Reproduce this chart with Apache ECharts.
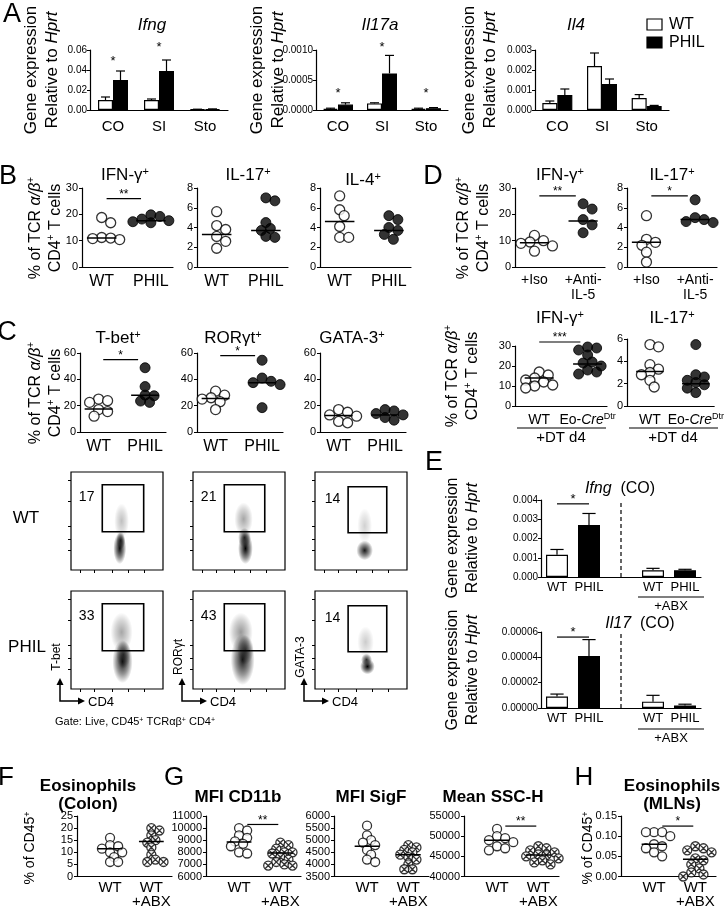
<!DOCTYPE html>
<html>
<head>
<meta charset="utf-8">
<script src="https://cdn.jsdelivr.net/npm/echarts@6/dist/echarts.min.js"></script>
<style>
html, body { margin: 0; padding: 0; background: #fff; }
#container { width: 727px; height: 909px; }
</style>
</head>
<body>
<div id="container"></div>
<script>
// ---------------- data ----------------
// A: gene expression relative to Hprt (mean, upper error)
const geneCats = ['CO', 'SI', 'Sto'];
const ifngWT = [0.0100, 0.0100, 0.0006];
const ifngWTErr = [0.0030, 0.0010, 0.0002];
const ifngPHIL = [0.0300, 0.0390, 0.0008];
const ifngPHILErr = [0.0090, 0.0110, 0.0003];
const il17aWT = [0.00002, 0.00011, 0.00002];
const il17aWTErr = [0.00001, 0.00001, 0.00001];
const il17aPHIL = [0.00009, 0.00061, 0.00003];
const il17aPHILErr = [0.00003, 0.00030, 0.00001];
const il4WT = [0.00035, 0.0022, 0.0006];
const il4WTErr = [0.00010, 0.00065, 0.00017];
const il4PHIL = [0.00075, 0.0013, 0.0002];
const il4PHILErr = [0.00030, 0.00025, 0.00003];

// B: % of TCRab+ CD4+ T cells
const bIfnWT = [18.8, 16.8, 11.2, 11.0, 10.4, 10.8];
const bIfnPHIL = [19.8, 19.2, 18.2, 17.6, 17.2, 16.6, 16.8];
const bIl17WT = [5.6, 4.2, 3.8, 3.1, 2.6, 1.9];
const bIl17PHIL = [7.0, 6.7, 4.5, 3.9, 3.7, 3.1, 3.0];
const bIl4WT = [7.2, 5.8, 5.2, 4.1, 3.0, 3.0];
const bIl4PHIL = [5.2, 4.8, 4.0, 3.7, 3.3, 2.8];

// C: transcription factors
const cTbetWT = [25.0, 23.8, 22.5, 17.0, 15.5, 12.0];
const cTbetPHIL = [48.8, 34.5, 28.0, 27.5, 23.5, 22.5];
const cRorWT = [31.0, 28.0, 26.0, 25.0, 23.0, 17.0];
const cRorPHIL = [54.5, 41.0, 38.5, 37.5, 36.0, 18.5];
const cGataWT = [17.0, 15.0, 13.0, 12.0, 8.0, 7.0];
const cGataPHIL = [17.0, 16.0, 14.0, 13.0, 11.0, 9.0];

// D
const dIfnIso = [12.0, 10.0, 9.5, 9.0, 8.0, 6.0];
const dIfnAnti = [24.0, 22.0, 18.0, 16.0, 13.0];
const dIl17Iso = [5.2, 2.8, 2.5, 2.2, 1.5, 0.5];
const dIl17Anti = [6.8, 5.0, 4.8, 4.6, 4.5];
const dIfnWT = [17.0, 15.5, 14.0, 13.0, 12.0, 10.5, 10.0, 9.0];
const dIfnEo = [29.5, 29.0, 28.0, 25.5, 22.0, 21.5, 20.0, 18.0, 17.0, 16.0];
const dIl17WT = [5.5, 5.3, 3.7, 3.3, 3.0, 2.8, 2.3, 1.7];
const dIl17Eo = [5.5, 2.8, 2.6, 2.3, 2.1, 1.9, 1.6, 1.2];

// E: colon expression with / without ABX
const eCats = ['WT', 'PHIL', '', 'WT', 'PHIL'];
const eIfng = [0.00115, 0.0027, null, 0.00035, 0.00035];
const eIfngErr = [0.00028, 0.0006, null, 0.0001, 0.00005];
const eIl17 = [0.000009, 0.000041, null, 0.000005, 0.000002];
const eIl17Err = [0.000002, 0.000013, null, 0.000005, 0.000001];

// F, G, H
const fColWT = [16, 13, 12.5, 11.5, 10, 10, 8, 6, 6];
const fColABX = [20, 19, 17, 15, 14, 12, 9, 7, 6, 6];
const gCd11bWT = [10000, 9800, 9400, 9200, 8900, 8700, 8500, 8000, 7900];
const gCd11bABX = [8800, 8600, 8300, 8000, 8000, 7900, 7600, 7400, 7200, 7000, 6900, 6900];
const gSigfWT = [5600, 5200, 5000, 4900, 4800, 4600, 4400, 4200, 4100];
const gSigfABX = [4800, 4700, 4600, 4500, 4400, 4300, 4200, 4000, 3800, 3800];
const gSscWT = [51800, 50000, 49500, 49000, 48500, 47500, 47000, 46500];
const gSscABX = [47500, 47000, 46500, 46000, 45500, 45300, 45000, 44500, 44000, 43500, 43000];
const hMlnWT = [0.11, 0.11, 0.11, 0.10, 0.08, 0.075, 0.07, 0.06, 0.05];
const hMlnABX = [0.075, 0.07, 0.065, 0.06, 0.045, 0.04, 0.03, 0.02, 0.01, 0.005, 0.0];

// flow plots: gate [x1, y1, x2, y2], label, density blobs [cx, cy, rx, ry, alpha]
const flowRows = ['WT', 'PHIL'];
const flowChannels = ['T-bet', 'RORγt', 'GATA-3'];
const flowGates = [[34, 39, 79, 87], [34, 39, 78, 87], [36, 38, 78, 85]];
const flowPct = [['17', '21', '14'], ['33', '43', '14']];
const flowTicksY = [20, 31, 45, 70, 92];
const flowTicksX = [10, 25, 45, 62, 80];
const flowBlobs = [
  [
    [[53, 22, 7, 16, 0.95], [54, 30, 5, 9, 0.8], [55, 50, 8, 18, 0.25]],
    [[57, 22, 8, 16, 1.0], [56, 33, 7, 10, 0.8], [55, 52, 10, 17, 0.35]],
    [[54, 20, 9, 10, 0.9], [54, 45, 8, 18, 0.18]]
  ],
  [
    [[56, 28, 11, 22, 0.9], [57, 35, 8, 14, 0.6], [55, 58, 12, 20, 0.35]],
    [[54, 30, 13, 26, 0.9], [57, 40, 9, 15, 0.6], [52, 58, 13, 20, 0.4]],
    [[57, 23, 8, 8, 1.0], [56, 30, 6, 6, 0.8], [55, 48, 9, 16, 0.2]]
  ]
];

// ---------------- builders ----------------
const FONT = '"Liberation Sans", Arial, sans-serif';
const NARROW = '"Liberation Sans Narrow", "Liberation Sans", Arial, sans-serif';
const grids = [], xAxes = [], yAxes = [], series = [], graphics = [];

function addGrid(b, extra) {
  grids.push(Object.assign({ left: b.l, top: b.t, width: b.w, height: b.h }, extra || {}));
  return grids.length - 1;
}

function txt(x, y, text, o) {
  o = o || {};
  graphics.push({
    type: 'text', x: x, y: y, rotation: o.rot || 0, z: 100,
    style: {
      text: text, fill: '#000',
      fontSize: o.size || 16, fontFamily: o.font || FONT,
      fontWeight: o.weight || 'normal', fontStyle: o.italic ? 'italic' : 'normal',
      textAlign: o.align || 'center', textVerticalAlign: o.valign || 'middle',
      align: o.align || 'center', verticalAlign: o.valign || 'middle',
      lineHeight: o.lh, rich: o.rich
    }
  });
}

function hline(x1, x2, y, w) {
  graphics.push({ type: 'line', z: 100, shape: { x1: x1, y1: y, x2: x2, y2: y }, style: { stroke: '#000', lineWidth: w || 1.2 } });
}

function supRich(size) {
  return {
    sup: { fontSize: Math.round(size * 0.62), verticalAlign: 'top', fontFamily: FONT },
    i: { fontStyle: 'italic', fontSize: size, fontFamily: FONT },
    n: { fontSize: size, fontFamily: FONT }
  };
}

// bar chart with upper error bars
function barPanel(o) {
  const g = addGrid(o.box);
  xAxes.push({
    type: 'category', gridIndex: g, data: o.cats,
    axisLine: { lineStyle: { color: '#000', width: 1.2 } }, axisTick: { show: false },
    axisLabel: { color: '#000', fontSize: o.catSize || 15, fontFamily: FONT, margin: o.catMargin || 9, interval: 0 }
  });
  yAxes.push({
    type: 'value', gridIndex: g, min: 0, max: o.max, interval: o.interval,
    splitLine: { show: false },
    axisLine: { show: true, lineStyle: { color: '#000', width: 1.2 } },
    axisTick: { show: true, length: 3, lineStyle: { color: '#000' } },
    axisLabel: { color: '#000', fontSize: o.tickSize || 10, fontFamily: FONT, margin: 3, formatter: v => v.toFixed(o.dec) }
  });
  const bw = o.barW;
  const errItems = [];
  if (o.single) {
    series.push({
      type: 'bar', xAxisIndex: g, yAxisIndex: g, barWidth: bw,
      data: o.vals.map((v, i) => ({ value: v, itemStyle: { color: o.fills[i], borderColor: '#000', borderWidth: 1.2 } }))
    });
    o.vals.forEach((v, i) => { if (v != null) errItems.push([i, v, o.errs[i], 0]); });
  } else {
    series.push({ type: 'bar', xAxisIndex: g, yAxisIndex: g, barWidth: bw, barGap: '0%', data: o.wt,
      itemStyle: { color: '#fff', borderColor: '#000', borderWidth: 1.2 } });
    series.push({ type: 'bar', xAxisIndex: g, yAxisIndex: g, barWidth: bw, barGap: '0%', data: o.ph,
      itemStyle: { color: '#000', borderColor: '#000', borderWidth: 1.2 } });
    o.wt.forEach((v, i) => errItems.push([i, v, o.wtErr[i], -bw / 2]));
    o.ph.forEach((v, i) => errItems.push([i, v, o.phErr[i], bw / 2]));
  }
  series.push({
    type: 'custom', xAxisIndex: g, yAxisIndex: g, data: errItems, encode: { x: 0, y: 1 }, z: 3,
    renderItem: function (p, api) {
      const c = api.value(0), v = api.value(1), e = api.value(2), dx = api.value(3);
      const a = api.coord([c, v]), b = api.coord([c, v + e]);
      const x = a[0] + dx, cap = bw * 0.3;
      return { type: 'group', children: [
        { type: 'line', shape: { x1: x, y1: a[1], x2: x, y2: b[1] }, style: { stroke: '#000', lineWidth: 1.2 } },
        { type: 'line', shape: { x1: x - cap, y1: b[1], x2: x + cap, y2: b[1] }, style: { stroke: '#000', lineWidth: 1.2 } }
      ] };
    }
  });
  if (o.sig) sigSeries(g, o.sig, 13);
  if (o.divider != null) {
    series.push({
      type: 'custom', xAxisIndex: g, yAxisIndex: g, data: [[o.divider, 0]], encode: { x: 0, y: 1 },
      renderItem: function (p, api) {
        const a = api.coord([o.divider, 0]), b = api.coord([o.divider, o.max]);
        return { type: 'line', shape: { x1: a[0], y1: a[1], x2: b[0], y2: b[1] }, style: { stroke: '#000', lineWidth: 1.2, lineDash: [4, 3] } };
      }
    });
  }
  return g;
}

// significance markers: [x1, x2, y, text]
function sigSeries(g, sig, size) {
  series.push({
    type: 'custom', xAxisIndex: g, yAxisIndex: g, z: 4,
    data: sig.map(s => [s[0], s[2]]), encode: { x: 0, y: 1 },
    renderItem: function (p, api) {
      const s = sig[p.dataIndex];
      const a = api.coord([s[0], s[2]]), b = api.coord([s[1], s[2]]);
      return { type: 'group', children: [
        { type: 'line', shape: { x1: a[0], y1: a[1], x2: b[0], y2: b[1] }, style: { stroke: '#000', lineWidth: 1.2 } },
        { type: 'text', x: (a[0] + b[0]) / 2, y: a[1] + 2, style: { text: s[3], fill: '#000', fontSize: size, fontFamily: FONT, align: 'center', verticalAlign: 'bottom', textAlign: 'center', textVerticalAlign: 'bottom' } }
      ] };
    }
  });
}

// deterministic beeswarm layout in pixel space
function swarm(vals, center, pxX, pxY, size) {
  const placed = [];
  const out = new Array(vals.length);
  const order = vals.map((v, i) => i).sort((a, b) => vals[b] - vals[a]);
  order.forEach(i => {
    const y = vals[i] * pxY;
    for (let k = 0; k < 40; k++) {
      const off = (k === 0 ? 0 : (k % 2 ? 1 : -1) * Math.ceil(k / 2)) * size * 0.45;
      if (placed.every(q => Math.hypot(q[0] - off, q[1] - y) >= size * 0.72)) {
        placed.push([off, y]);
        out[i] = center + off / pxX;
        break;
      }
    }
  });
  return out;
}

const CROSS = 'path://M10,0A10,10,0,1,1,10,20A10,10,0,1,1,10,0ZM2.93,2.93L17.07,17.07M17.07,2.93L2.93,17.07';

function dotPanel(o) {
  const g = addGrid(o.box);
  const xMin = o.xMin != null ? o.xMin : 0.6, xMax = o.xMax != null ? o.xMax : 2.45;
  const font = o.font || FONT;
  xAxes.push({
    type: 'value', gridIndex: g, min: xMin, max: xMax, splitLine: { show: false },
    axisLine: { show: true, onZero: false, lineStyle: { color: '#000', width: 1.2 } }, axisTick: { show: false },
    axisLabel: { customValues: [1, 2], formatter: v => o.names[Math.round(v) - 1], color: '#000',
      fontSize: o.catSize || 16, fontFamily: font, margin: o.catMargin || 6, lineHeight: o.catLH || 17,
      verticalAlign: 'top', rich: o.catRich }
  });
  yAxes.push({
    type: 'value', gridIndex: g, min: o.yMin, max: o.yMax, interval: o.yInt, splitLine: { show: false },
    axisLine: { show: true, onZero: false, lineStyle: { color: '#000', width: 1.2 } },
    axisTick: { show: true, length: 3, lineStyle: { color: '#000' } },
    axisLabel: { color: '#000', fontSize: o.tickSize || 11, fontFamily: font, margin: 4, formatter: o.yFmt || (v => String(v)) }
  });
  const pxX = o.box.w / (xMax - xMin), pxY = o.box.h / (o.yMax - o.yMin);
  const size = o.size || 10;
  o.groups.forEach((grp, gi) => {
    const c = gi + 1;
    const xs = swarm(grp.vals, c, pxX, pxY, size);
    let style, symbol = 'circle';
    if (grp.kind === 'filled') style = { color: '#000', borderColor: '#000', borderWidth: 1 };
    else style = { color: '#fff', borderColor: '#000', borderWidth: 1.3 };
    if (grp.kind === 'cross') symbol = CROSS;
    series.push({ type: 'scatter', xAxisIndex: g, yAxisIndex: g, symbol: symbol, symbolSize: size, z: 2,
      itemStyle: style, data: grp.vals.map((v, i) => [xs[i], v]) });
    series.push({ type: 'line', xAxisIndex: g, yAxisIndex: g, z: 3, showSymbol: false, silent: true,
      lineStyle: { color: '#000', width: 1.5 }, data: [[c - 0.3, grp.line], [c + 0.3, grp.line]] });
  });
  if (o.sig) sigSeries(g, o.sig, o.sigSize || 12);
  return g;
}

function flowPanel(row, col, box) {
  const g = addGrid(box, { show: true, borderColor: '#000', borderWidth: 1.2, backgroundColor: '#fff' });
  const tick = { show: true, length: 3, lineStyle: { color: '#000', width: 1 } };
  xAxes.push({ type: 'value', gridIndex: g, min: 0, max: 100, axisLine: { show: false }, axisLabel: { show: false },
    splitLine: { show: false }, axisTick: Object.assign({ customValues: flowTicksX }, tick) });
  yAxes.push({ type: 'value', gridIndex: g, min: 0, max: 100, axisLine: { show: false }, axisLabel: { show: false },
    splitLine: { show: false }, axisTick: Object.assign({ customValues: flowTicksY }, tick) });
  const blobs = flowBlobs[row][col];
  series.push({
    type: 'custom', xAxisIndex: g, yAxisIndex: g, clip: true, z: 1,
    data: blobs.map(b => [b[0], b[1]]), encode: { x: 0, y: 1 },
    renderItem: function (p, api) {
      const b = blobs[p.dataIndex];
      const c = api.coord([b[0], b[1]]), s = api.size([b[2], b[3]]);
      return { type: 'circle', x: c[0], y: c[1], scaleX: s[0], scaleY: s[1], shape: { cx: 0, cy: 0, r: 1 },
        style: { fill: new echarts.graphic.RadialGradient(0.5, 0.5, 0.5, [
          { offset: 0, color: 'rgba(0,0,0,' + b[4] + ')' },
          { offset: 0.6, color: 'rgba(0,0,0,' + (b[4] * 0.45) + ')' },
          { offset: 1, color: 'rgba(0,0,0,0)' }]) } };
    }
  });
  const gate = flowGates[col];
  series.push({
    type: 'custom', xAxisIndex: g, yAxisIndex: g, z: 5, data: [[gate[0], gate[1]]], encode: { x: 0, y: 1 },
    renderItem: function (p, api) {
      const a = api.coord([gate[0], gate[3]]), b = api.coord([gate[2], gate[1]]);
      const t = api.coord([gate[0] - 17, gate[3] - 13]);
      return { type: 'group', children: [
        { type: 'rect', shape: { x: a[0], y: a[1], width: b[0] - a[0], height: b[1] - a[1] }, style: { fill: 'none', stroke: '#000', lineWidth: 1.6 } },
        { type: 'text', x: t[0], y: t[1], style: { text: flowPct[row][col], fill: '#000', fontSize: 14, fontFamily: FONT, align: 'center', verticalAlign: 'middle', textAlign: 'center', textVerticalAlign: 'middle' } }
      ] };
    }
  });
}

// ---------------- layout ----------------
const R16 = supRich(16);
const TOP_A = 50, H_A = 60;

// Panel A
txt(12, 15, 'A', { size: 27 });
barPanel({ box: { l: 90, t: TOP_A, w: 138, h: H_A }, cats: geneCats, wt: ifngWT, wtErr: ifngWTErr, ph: ifngPHIL, phErr: ifngPHILErr,
  max: 0.06, interval: 0.02, dec: 2, barW: 15, sig: [[-0.3, 0.3, 0.044, '*'], [0.7, 1.3, 0.058, '*']] });
barPanel({ box: { l: 316, t: TOP_A, w: 132, h: H_A }, cats: geneCats, wt: il17aWT, wtErr: il17aWTErr, ph: il17aPHIL, phErr: il17aPHILErr,
  max: 0.001, interval: 0.0005, dec: 4, barW: 15, sig: [[-0.3, 0.3, 0.0002, '*'], [0.7, 1.3, 0.00097, '*'], [1.7, 2.3, 0.0002, '*']] });
barPanel({ box: { l: 535, t: TOP_A, w: 134, h: H_A }, cats: geneCats, wt: il4WT, wtErr: il4WTErr, ph: il4PHIL, phErr: il4PHILErr,
  max: 0.003, interval: 0.001, dec: 3, barW: 15 });
txt(152, 25, 'Ifng', { size: 17, italic: true });
txt(380, 25, 'Il17a', { size: 17, italic: true });
txt(576, 25, 'Il4', { size: 17, italic: true });
[42, 268, 480].forEach(x => txt(x, 70, 'Gene expression\n{n|Relative to }{i|Hprt}', { rot: Math.PI / 2, size: 17, lh: 21, rich: supRich(17) }));
// legend
graphics.push({ type: 'rect', z: 100, shape: { x: 647, y: 19, width: 15, height: 11 }, style: { fill: '#fff', stroke: '#000', lineWidth: 1.2 } });
graphics.push({ type: 'rect', z: 100, shape: { x: 647, y: 37, width: 15, height: 11 }, style: { fill: '#000', stroke: '#000', lineWidth: 1.2 } });
txt(669, 25, 'WT', { size: 16, align: 'left' });
txt(669, 43, 'PHIL', { size: 16, align: 'left' });

// Panel B
txt(8, 177, 'B', { size: 27 });
const TOP_B = 188, H_B = 79;
dotPanel({ box: { l: 82, t: TOP_B, w: 91, h: H_B }, names: ['WT', 'PHIL'], yMin: 0, yMax: 30, yInt: 10,
  groups: [{ vals: bIfnWT, kind: 'open', line: 11 }, { vals: bIfnPHIL, kind: 'filled', line: 17.6 }], sig: [[1.1, 1.8, 26, '**']] });
dotPanel({ box: { l: 197, t: TOP_B, w: 91, h: H_B }, names: ['WT', 'PHIL'], yMin: 0, yMax: 8, yInt: 2,
  groups: [{ vals: bIl17WT, kind: 'open', line: 3.3 }, { vals: bIl17PHIL, kind: 'filled', line: 3.7 }] });
dotPanel({ box: { l: 320, t: TOP_B, w: 91, h: H_B }, names: ['WT', 'PHIL'], yMin: 0, yMax: 8, yInt: 2,
  groups: [{ vals: bIl4WT, kind: 'open', line: 4.6 }, { vals: bIl4PHIL, kind: 'filled', line: 3.7 }] });
txt(125, 175, '{n|IFN-γ}{sup|+}', { rich: supRich(17) });
txt(248, 175, '{n|IL-17}{sup|+}', { rich: supRich(17) });
txt(363, 180, '{n|IL-4}{sup|+}', { rich: supRich(17) });
const TCR = '{n|% of TCR }{i|α/β}{sup|+}\n{n|CD4}{sup|+}{n| T cells}';
txt(46, 228, TCR, { rot: Math.PI / 2, lh: 20, rich: R16 });

// Panel C
txt(7, 333, 'C', { size: 27 });
const TOP_C = 353, H_C = 79;
dotPanel({ box: { l: 80, t: TOP_C, w: 86, h: H_C }, names: ['WT', 'PHIL'], yMin: 0, yMax: 60, yInt: 20,
  groups: [{ vals: cTbetWT, kind: 'open', line: 17.5 }, { vals: cTbetPHIL, kind: 'filled', line: 28 }], sig: [[1.1, 1.85, 55, '*']] });
dotPanel({ box: { l: 197, t: TOP_C, w: 86, h: H_C }, names: ['WT', 'PHIL'], yMin: 0, yMax: 60, yInt: 20,
  groups: [{ vals: cRorWT, kind: 'open', line: 25.5 }, { vals: cRorPHIL, kind: 'filled', line: 37.5 }], sig: [[1.1, 1.85, 58, '*']] });
dotPanel({ box: { l: 320, t: TOP_C, w: 86, h: H_C }, names: ['WT', 'PHIL'], yMin: 0, yMax: 60, yInt: 20,
  groups: [{ vals: cGataWT, kind: 'open', line: 12.5 }, { vals: cGataPHIL, kind: 'filled', line: 13 }] });
txt(118, 338, '{n|T-bet}{sup|+}', { rich: supRich(17) });
txt(233, 338, '{n|RORγt}{sup|+}', { rich: supRich(17) });
txt(352, 338, '{n|GATA-3}{sup|+}', { rich: supRich(17) });
txt(46, 393, TCR, { rot: Math.PI / 2, lh: 20, rich: R16 });

// flow plots
const flowLefts = [71, 193, 315], flowTops = [472, 591];
flowRows.forEach((r, ri) => flowLefts.forEach((l, ci) => flowPanel(ri, ci, { l: l, t: flowTops[ri], w: 92, h: 98 })));
txt(26, 518, 'WT', { size: 17 });
txt(27, 647, 'PHIL', { size: 17 });
flowLefts.forEach((l, ci) => {
  txt(l - 14, 657, flowChannels[ci], { rot: Math.PI / 2, size: 12 });
  const ax = l - 11, ay = 701;
  graphics.push({ type: 'polyline', z: 100, shape: { points: [[ax, 683], [ax, ay], [ax + 20, ay]] }, style: { stroke: '#000', lineWidth: 1.5, fill: 'none' } });
  graphics.push({ type: 'polygon', z: 100, shape: { points: [[ax - 3.5, 685], [ax + 3.5, 685], [ax, 678]] }, style: { fill: '#000' } });
  graphics.push({ type: 'polygon', z: 100, shape: { points: [[ax + 18, ay - 3.5], [ax + 18, ay + 3.5], [ax + 25, ay]] }, style: { fill: '#000' } });
  txt(ax + 28, ay + 1, 'CD4', { size: 13, align: 'left' });
});
txt(55, 722, '{n|Gate: Live, CD45}{sup|+}{n| TCRαβ}{sup|+}{n| CD4}{sup|+}', { align: 'left', rich: supRich(11) });

// Panel D
txt(433, 177, 'D', { size: 27 });
dotPanel({ box: { l: 515, t: TOP_B, w: 90, h: H_B }, names: ['+Iso', '+Anti-\nIL-5'], catSize: 14, catLH: 15, yMin: 0, yMax: 30, yInt: 10,
  groups: [{ vals: dIfnIso, kind: 'open', line: 9.2 }, { vals: dIfnAnti, kind: 'filled', line: 17.5 }], sig: [[1.1, 1.85, 27, '**']] });
dotPanel({ box: { l: 627, t: TOP_B, w: 90, h: H_B }, names: ['+Iso', '+Anti-\nIL-5'], catSize: 14, catLH: 15, yMin: 0, yMax: 8, yInt: 2,
  groups: [{ vals: dIl17Iso, kind: 'open', line: 2.5 }, { vals: dIl17Anti, kind: 'filled', line: 4.8 }], sig: [[1.1, 1.85, 7.2, '*']] });
txt(560, 175, '{n|IFN-γ}{sup|+}', { rich: supRich(17) });
txt(672, 175, '{n|IL-17}{sup|+}', { rich: supRich(17) });
txt(474, 228, TCR, { rot: Math.PI / 2, lh: 20, rich: R16 });

const EO = ['WT', '{n|Eo-}{i|Cre}{sup|Dtr}'];
dotPanel({ box: { l: 515, t: 346, w: 92, h: 60 }, names: EO, catSize: 14, catRich: supRich(14), yMin: 0, yMax: 30, yInt: 10, xMin: 0.5, xMax: 2.4,
  groups: [{ vals: dIfnWT, kind: 'open', line: 14 }, { vals: dIfnEo, kind: 'filled', line: 21 }], sig: [[1.0, 1.85, 32, '***']] });
dotPanel({ box: { l: 627, t: 339, w: 92, h: 67 }, names: EO, catSize: 14, catRich: supRich(14), yMin: 0, yMax: 6, yInt: 2, xMin: 0.5, xMax: 2.4,
  groups: [{ vals: dIl17WT, kind: 'open', line: 3.1 }, { vals: dIl17Eo, kind: 'filled', line: 2.0 }] });
txt(560, 318, '{n|IFN-γ}{sup|+}', { rich: supRich(17) });
txt(672, 318, '{n|IL-17}{sup|+}', { rich: supRich(17) });
txt(463, 376, TCR, { rot: Math.PI / 2, lh: 20, rich: R16 });
hline(517, 606, 428); txt(561, 438, '+DT d4', { size: 15 });
hline(629, 718, 428); txt(673, 438, '+DT d4', { size: 15 });

// Panel E
txt(434, 463, 'E', { size: 27 });
const eFills = ['#fff', '#000', '#fff', '#fff', '#000'];
barPanel({ box: { l: 541, t: 500, w: 160, h: 77 }, cats: eCats, single: true, vals: eIfng, errs: eIfngErr, fills: eFills,
  max: 0.004, interval: 0.001, dec: 3, barW: 22, catSize: 13, catMargin: 4, divider: 2, sig: [[0, 1, 0.0038, '*']] });
barPanel({ box: { l: 541, t: 632, w: 160, h: 76 }, cats: eCats, single: true, vals: eIl17, errs: eIl17Err, fills: eFills,
  max: 0.00006, interval: 0.00002, dec: 5, barW: 22, catSize: 13, catMargin: 4, divider: 2, sig: [[0, 1, 0.000056, '*']] });
txt(620, 489, '{i|Ifng}{n|  (CO)}', { rich: R16 });
txt(640, 624, '{i|Il17}{n|  (CO)}', { rich: R16 });
txt(463, 538, 'Gene expression\n{n|Relative to }{i|Hprt}', { rot: Math.PI / 2, lh: 20, rich: R16 });
txt(463, 670, 'Gene expression\n{n|Relative to }{i|Hprt}', { rot: Math.PI / 2, lh: 20, rich: R16 });
hline(638, 704, 597); txt(671, 606, '+ABX', { size: 13 });
hline(638, 704, 729); txt(671, 738, '+ABX', { size: 13 });

// Panels F, G, H
const TOP_F = 816, H_F = 64;
const ABX = ['WT', 'WT\n+ABX'];
const fOpts = { catSize: 15, catLH: 14, font: NARROW, tickSize: 11, xMin: 0.2, xMax: 2.5, size: 9, catMargin: 4 };
txt(6, 778, 'F', { size: 26 });
txt(174, 778, 'G', { size: 26 });
txt(584, 778, 'H', { size: 26 });
dotPanel(Object.assign({ box: { l: 77, t: TOP_F, w: 95, h: H_F }, names: ABX, yMin: 0, yMax: 25, yInt: 5,
  groups: [{ vals: fColWT, kind: 'open', line: 11.5 }, { vals: fColABX, kind: 'cross', line: 14.5 }] }, fOpts));
dotPanel(Object.assign({ box: { l: 206, t: TOP_F, w: 95, h: H_F }, names: ABX, yMin: 6000, yMax: 11000, yInt: 1000,
  groups: [{ vals: gCd11bWT, kind: 'open', line: 8850 }, { vals: gCd11bABX, kind: 'cross', line: 7950 }], sig: [[1.2, 1.95, 10300, '**']] }, fOpts));
dotPanel(Object.assign({ box: { l: 334, t: TOP_F, w: 95, h: H_F }, names: ABX, yMin: 3500, yMax: 6000, yInt: 500,
  groups: [{ vals: gSigfWT, kind: 'open', line: 4750 }, { vals: gSigfABX, kind: 'cross', line: 4400 }] }, fOpts));
dotPanel(Object.assign({ box: { l: 464, t: TOP_F, w: 95, h: H_F }, names: ABX, yMin: 40000, yMax: 55000, yInt: 5000,
  groups: [{ vals: gSscWT, kind: 'open', line: 49000 }, { vals: gSscABX, kind: 'cross', line: 45300 }], sig: [[1.2, 1.95, 52500, '**']] }, fOpts));
dotPanel(Object.assign({ box: { l: 621, t: TOP_F, w: 95, h: H_F }, names: ABX, yMin: 0, yMax: 0.15, yInt: 0.05, yFmt: v => v.toFixed(2),
  groups: [{ vals: hMlnWT, kind: 'open', line: 0.08 }, { vals: hMlnABX, kind: 'cross', line: 0.043 }], sig: [[1.2, 1.95, 0.125, '*']] }, fOpts));
const bold = { size: 17, font: NARROW, weight: 'bold' };
txt(88, 786, 'Eosinophils', bold); txt(88, 804, '(Colon)', bold);
txt(238, 797, 'MFI CD11b', bold);
txt(371, 797, 'MFI SigF', bold);
txt(493, 797, 'Mean SSC-H', bold);
txt(672, 786, 'Eosinophils', bold); txt(672, 804, '(MLNs)', bold);
const CD45 = '{n|% of CD45}{sup|+}';
txt(30, 848, CD45, { rot: Math.PI / 2, rich: supRich(14) });
txt(588, 848, CD45, { rot: Math.PI / 2, rich: supRich(14) });

// ---------------- chart ----------------
const chart = echarts.init(document.getElementById('container'));
chart.setOption({
  animation: false,
  backgroundColor: '#fff',
  textStyle: { fontFamily: FONT, color: '#000' },
  grid: grids,
  xAxis: xAxes,
  yAxis: yAxes,
  series: series,
  graphic: graphics
});
</script>
</body>
</html>
